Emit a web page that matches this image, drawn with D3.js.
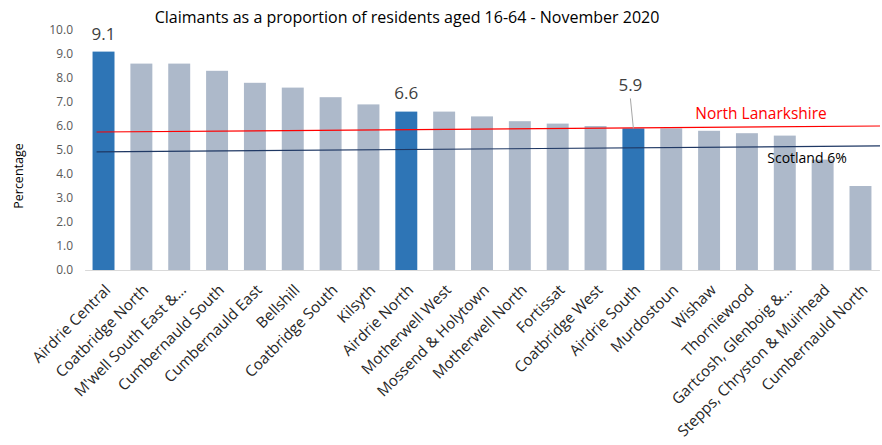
<!DOCTYPE html>
<html><head><meta charset="utf-8">
<script src="https://cdn.jsdelivr.net/npm/d3@7"></script>
<style>body{margin:0;background:#fff;} svg{display:block;font-family:"Open Sans",sans-serif;}</style>
</head><body>
<svg id="c" width="882" height="445"></svg>
<script>
const categories = ["Airdrie Central","Coatbridge North","M'well South East &\u2026","Cumbernauld South","Cumbernauld East","Bellshill","Coatbridge South","Kilsyth","Airdrie North","Motherwell West","Mossend & Holytown","Motherwell North","Fortissat","Coatbridge West","Airdrie South","Murdostoun","Wishaw","Thorniewood","Gartcosh, Glenboig &\u2026","Stepps, Chryston & Muirhead","Cumbernauld North"];
const values = [9.1,8.6,8.6,8.3,7.8,7.6,7.2,6.9,6.6,6.6,6.4,6.2,6.1,6.0,5.9,5.9,5.8,5.7,5.6,4.6,3.5];
const highlighted = ["Airdrie Central","Airdrie North","Airdrie South"];
const yTicks = [0,1,2,3,4,5,6,7,8,9,10];
const northLanarkshireLine = [5.75, 6.0];
const scotlandLine = [4.92, 5.17];

const svg = d3.select("#c");
const x = d3.scaleBand().domain(categories).range([84.6, 879.4]).paddingInner(0.42).paddingOuter(0.21);
const y = d3.scaleLinear().domain([0,10]).range([270,30]);

// title
svg.append("text").attr("x",407).attr("y",23).attr("text-anchor","middle")
  .attr("font-size",16).attr("fill","#000").text("Claimants as a proportion of residents aged 16-64 - November 2020");

// y ticks
const yAxis = d3.axisLeft(y).tickValues(yTicks).tickFormat(d3.format(".1f")).tickSize(0).tickPadding(0);
const gy = svg.append("g").attr("transform","translate(73,0)").call(yAxis);
gy.select(".domain").remove();
gy.selectAll("text").attr("font-size",12).attr("fill","#595959").attr("font-family","Open Sans, sans-serif");

svg.append("text").attr("transform","translate(23,176) rotate(-90)").attr("text-anchor","middle")
  .attr("font-size",12.5).attr("fill","#000").text("Percentage");

// bars
svg.append("g").selectAll("rect").data(categories).join("rect")
  .attr("x",d=>x(d)).attr("width",x.bandwidth())
  .attr("y",(d,i)=>y(values[i])).attr("height",(d,i)=>y(0)-y(values[i]))
  .attr("fill",d=>highlighted.includes(d)?"#2e75b6":"#adb9ca");

// baseline
const xAxis = d3.axisBottom(x).tickSize(0).tickPadding(0);
const gx = svg.append("g").attr("transform","translate(0,270)").call(xAxis);
gx.select(".domain").attr("stroke","#d9d9d9").attr("stroke-width",1.2);
gx.selectAll("text").attr("font-size",15.2).attr("fill","#262626").attr("font-family","Open Sans, sans-serif")
  .attr("text-anchor","end").attr("dy",0)
  .attr("transform","translate(8,21) rotate(-45)");

// lines
const lx0 = x(categories[0]) + 4, lx1 = 880;
svg.append("line").attr("x1",lx0).attr("x2",lx1).attr("y1",y(northLanarkshireLine[0])).attr("y2",y(northLanarkshireLine[1]))
  .attr("stroke","#ff0000").attr("stroke-width",1.2);
svg.append("line").attr("x1",lx0).attr("x2",lx1).attr("y1",y(scotlandLine[0])).attr("y2",y(scotlandLine[1]))
  .attr("stroke","#1f3864").attr("stroke-width",1.2);

svg.append("text").attr("x",761).attr("y",119).attr("text-anchor","middle").attr("font-size",15.5)
  .attr("fill","#ff0000").text("North Lanarkshire");
svg.append("text").attr("x",807).attr("y",163).attr("text-anchor","middle").attr("font-size",14)
  .attr("fill","#000").text("Scotland 6%");

// data labels
const lab = (c, dx, dyPx) => {
  const i = categories.indexOf(c);
  return {cx: x(c)+x.bandwidth()/2+dx, cy: y(values[i])-dyPx, v: values[i]};
};
const l1 = lab("Airdrie Central",0,12), l2 = lab("Airdrie North",0,13), l3 = lab("Airdrie South",-3,37);
[l1,l2,l3].forEach(l=>{
  svg.append("text").attr("x",l.cx).attr("y",l.cy).attr("text-anchor","middle").attr("font-size",17)
    .attr("fill","#404040").text(d3.format(".1f")(l.v));
});
svg.append("line").attr("x1",l3.cx).attr("y1",l3.cy+7).attr("x2",l3.cx+3).attr("y2",y(values[14])).attr("stroke","#a6a6a6").attr("stroke-width",1);
</script>
</body></html>
